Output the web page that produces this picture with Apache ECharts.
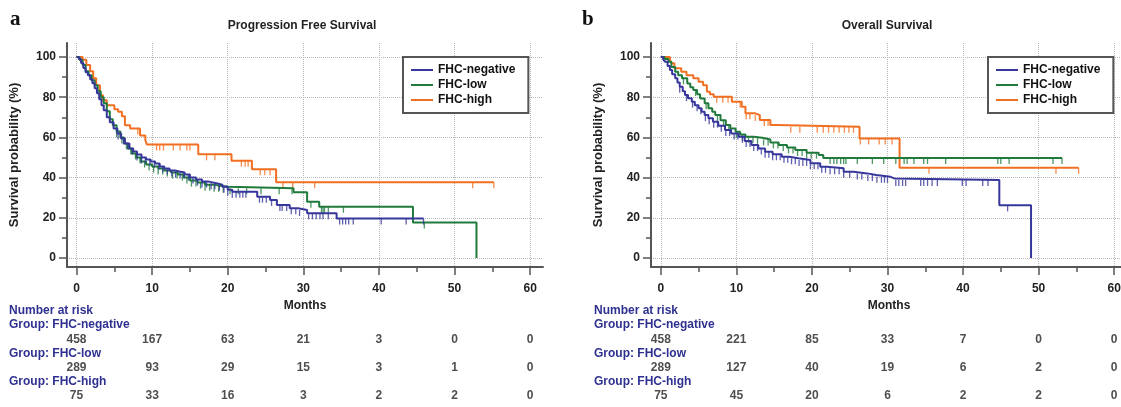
<!DOCTYPE html>
<html>
<head>
<meta charset="utf-8">
<script src="https://cdn.jsdelivr.net/npm/echarts@6/dist/echarts.min.js"></script>
<style>
  html, body { margin: 0; padding: 0; background: #fff; }
  #main { width: 1121px; height: 407px; }
</style>
</head>
<body>
<div id="main"></div>
<script>
const FONT = '"Liberation Sans", Arial, Helvetica, sans-serif';
const groups = ["FHC-negative", "FHC-low", "FHC-high"];
const colors = ["#36369b", "#1f7a3c", "#f26f22"];
const navy = "#2e3190";

const monthTicks = [0, 10, 20, 30, 40, 50, 60];
const monthMinor = [5, 15, 25, 35, 45, 55];
const survTicks = [0, 20, 40, 60, 80, 100];
const survMinor = [10, 30, 50, 70, 90];

// Progression free survival, steps [month, survival %]
const pfsNeg = [[0,100],[0.3,99],[0.6,97],[0.9,94.5],[1.2,92.5],[1.5,91],[1.8,89],[2.1,87],[2.4,84.5],[2.7,82],[3.0,79],[3.3,76],[3.6,73.5],[4.0,70],[4.4,67.5],[4.9,64.5],[5.4,62],[5.9,59.5],[6.4,57],[7.0,54.5],[7.5,53],[8.0,51.5],[8.6,50],[9.2,49],[9.8,48],[10.4,47],[11.0,45.5],[11.6,44.5],[12.3,43.5],[13.0,43],[13.6,42.5],[14.3,41.5],[15.0,40],[15.8,39],[16.6,38],[17.5,37.2],[18.5,36.5],[19.3,35.5],[20.0,34],[20.6,33],[23.9,30.5],[25.6,28.9],[26.5,26.4],[28.2,24.7],[29.3,23.9],[30.5,22.2],[34.4,19.6],[45.9,19.6]];
const pfsLow = [[0,100],[0.4,98.5],[0.8,96],[1.2,93],[1.6,91],[2.0,88.5],[2.4,86],[2.8,83],[3.2,80],[3.6,77],[4.0,73],[4.4,69],[4.8,66],[5.3,63],[5.8,60],[6.3,57],[6.8,54.5],[7.3,52],[7.9,50],[8.5,48],[9.2,46.5],[10.0,45.5],[10.8,44.5],[11.6,43.5],[12.5,42.5],[13.4,41.5],[14.2,40],[15.0,38.5],[16.0,37.5],[17.0,36.5],[18.0,36],[19.0,35.5],[20.1,34.7],[28.7,32.7],[30.5,28],[32.1,25.5],[44.5,17.6],[52.9,0]];
const pfsHigh = [[0,100],[0.8,98.7],[1.3,96],[1.8,93],[2.2,89.4],[2.6,86],[3.1,81],[3.5,78.5],[4.0,76],[5.0,74],[5.5,72.8],[6.0,70.5],[6.4,66],[7.1,64.5],[8.4,61],[9.1,58.7],[9.3,56.5],[16.1,51.6],[20.5,48.4],[23.2,44.1],[26.4,37.7],[55.2,37.7]];

// censored times (months)
const pfsNegCens = [5.5,6.2,6.8,7.4,8.0,8.6,9.1,9.7,10.3,10.9,11.4,12.0,12.6,13.1,13.7,14.2,14.8,15.4,16.0,16.6,17.2,17.8,18.3,18.9,19.5,20.0,20.6,21.1,21.6,22.0,22.4,24.2,24.6,25.1,25.8,26.9,27.2,27.8,28.4,29.0,29.5,30.7,31.2,31.7,32.2,32.6,33.3,34.8,35.2,35.6,36.0,36.6,40.3,43.6,45.9];
const pfsLowCens = [5.3,6.0,6.6,7.2,7.8,8.4,9.0,9.6,10.2,10.8,11.4,12.0,12.7,13.3,14.0,14.6,15.2,15.8,16.4,17.0,17.6,18.2,18.8,19.4,20.3,21.4,22.5,24.4,26.8,28.5,31.0,32.4,32.6,32.8,33.3,35.3,46.0];
const pfsHighCens = [8.1,10.6,11.0,11.5,12.8,13.7,14.6,15.0,17.2,18.3,21.8,22.3,22.7,24.3,24.9,25.6,27.3,28.6,31.5,52.4,55.2];

// Overall survival
const osNeg = [[0,100],[0.3,99],[0.55,97.7],[0.9,95.5],[1.2,93.5],[1.5,91.5],[1.9,89.4],[2.2,87.3],[2.5,85.2],[2.9,83],[3.2,81.1],[3.6,79.5],[4.1,77.8],[4.5,76],[5.0,74.5],[5.4,72.8],[5.8,71.1],[6.3,69.5],[6.9,67.8],[7.6,65.8],[8.5,63.7],[9.3,62],[10.3,60.3],[11.1,58.2],[12.0,56.2],[12.9,54.5],[13.8,52.9],[14.8,51.6],[16.0,50.4],[17.0,49.6],[18.2,48.8],[19.8,47.1],[21.1,45.4],[22.0,44.6],[24.2,42.9],[25.5,42.1],[27.3,41.3],[28.5,40.4],[30.4,39.6],[30.9,38.8],[44.8,26.2],[49.0,0]];
const osLow = [[0,100],[0.5,99],[1.0,97.7],[1.4,95],[1.9,92.7],[2.3,91],[2.8,89.4],[3.5,86.9],[3.9,85],[4.3,83.6],[4.8,81.5],[5.2,79.4],[5.8,77],[6.3,74.5],[6.8,72.8],[7.2,71.1],[7.9,68.5],[8.6,66.2],[9.2,64.5],[9.9,62.8],[10.5,61.5],[11.2,60.3],[12.3,59.8],[13.4,59],[14.5,57.5],[15.6,56.2],[16.7,55],[17.8,53.7],[19.3,52.4],[20.9,51.2],[21.5,49.8],[53.1,49.8]];
const osHigh = [[0,100],[1.2,98.7],[1.4,96.9],[1.8,94.4],[2.7,92.7],[3.4,91],[4.3,89.4],[5.0,87.7],[5.6,86],[6.1,82.7],[6.5,81.5],[7.0,80.2],[9.4,77.8],[10.7,75.3],[11.2,72],[12.5,71.1],[13.1,68.7],[14.5,66.2],[15.3,65.3],[26.3,59.5],[31.6,44.9],[55.3,44.9]];

const osNegCens = [2.5,3.4,4.2,4.8,5.3,5.9,6.4,7.0,7.5,8.0,8.6,9.1,9.7,10.2,10.8,11.3,11.8,12.3,12.8,13.3,13.8,14.3,14.8,15.3,15.8,16.3,16.8,17.3,17.8,18.3,18.8,19.3,19.8,20.3,20.8,21.3,21.8,22.4,23.0,23.6,24.2,25.0,26.0,26.6,27.4,28.0,28.6,29.2,29.6,30.0,31.1,31.5,32.0,32.4,34.4,34.8,35.3,35.9,36.6,39.9,40.4,42.6,43.3,45.9];
const osLowCens = [3.0,4.6,6.0,7.5,8.3,9.0,10.0,10.8,11.6,12.2,12.8,13.6,14.2,14.9,15.5,16.2,16.9,17.5,18.1,18.7,19.3,19.9,20.6,22.4,22.9,23.3,23.8,24.2,24.5,26.0,28.0,29.5,31.1,32.2,32.6,33.5,34.8,35.3,37.7,44.6,45.0,46.1,51.9,53.1];
const osHighCens = [7.4,8.2,8.9,10.5,11.3,11.8,12.5,13.7,14.2,17.2,18.4,20.7,21.5,22.2,22.9,23.6,24.3,24.9,25.5,26.4,27.5,28.9,29.7,30.6,35.5,52.3,55.3];

// number at risk at 0,10,...,60 months
const pfsRiskNeg = [458, 167, 63, 21, 3, 0, 0];
const pfsRiskLow = [289, 93, 29, 15, 3, 1, 0];
const pfsRiskHigh = [75, 33, 16, 3, 2, 2, 0];
const osRiskNeg = [458, 221, 85, 33, 7, 0, 0];
const osRiskLow = [289, 127, 40, 19, 6, 2, 0];
const osRiskHigh = [75, 45, 20, 6, 2, 2, 0];

function survAt(curve, t) {
  let s = curve[0][1];
  for (const p of curve) {
    if (p[0] <= t) s = p[1];
    else break;
  }
  return s;
}

const grids = [];
const xAxes = [];
const yAxes = [];
const series = [];
const graphics = [];

const axisColor = "#555";
const labelStyle = { color: "#222", fontWeight: "bold", fontSize: 12, fontFamily: FONT };

function panel(p, cfg) {
  const g = p * 2;
  const a = p * 3;
  grids.push(
    { left: cfg.left, top: 43, width: 476, height: 224, outerBoundsMode: "none", containLabel: false },
    { left: cfg.left, top: 326, width: 476, height: 84, outerBoundsMode: "none", containLabel: false }
  );
  xAxes.push(
    {
      type: "value", gridIndex: g, position: "bottom", min: cfg.xmin, max: cfg.xmax,
      axisLine: { onZero: false, lineStyle: { color: axisColor, width: 2 } },
      axisTick: { customValues: monthTicks, length: 8, lineStyle: { color: axisColor, width: 1.5 } },
      axisLabel: Object.assign({ customValues: monthTicks, margin: 16 }, labelStyle),
      splitLine: { show: true, lineStyle: { color: "#b8b8b8", type: "dotted", width: 1 } },
      name: "Months", nameLocation: "middle", nameGap: 33, nameTextStyle: labelStyle,
    },
    {
      type: "value", gridIndex: g, position: "bottom", min: cfg.xmin, max: cfg.xmax,
      axisLine: { show: false, onZero: false },
      axisTick: { show: true, customValues: monthMinor, length: 5, lineStyle: { color: axisColor, width: 1.5 } },
      axisLabel: { show: false },
      splitLine: { show: false },
    },
    { type: "value", gridIndex: g + 1, min: cfg.xmin, max: cfg.xmax, show: false }
  );
  yAxes.push(
    {
      type: "value", gridIndex: g, position: "left", min: -4.5, max: 107,
      axisLine: { show: true, onZero: false, lineStyle: { color: axisColor, width: 2 } },
      axisTick: { show: true, customValues: survTicks, length: 8, lineStyle: { color: axisColor, width: 1.5 } },
      axisLabel: Object.assign({ customValues: survTicks, margin: 11 }, labelStyle),
      splitLine: { show: true, lineStyle: { color: "#b8b8b8", type: "dotted", width: 1 } },
      name: "Survival probability (%)", nameLocation: "middle", nameGap: 46,
      nameTextStyle: Object.assign({}, labelStyle, { fontSize: 13 }),
    },
    {
      type: "value", gridIndex: g, position: "left", min: -4.5, max: 107,
      axisLine: { show: false, onZero: false },
      axisTick: { show: true, customValues: survMinor, length: 5, lineStyle: { color: axisColor, width: 1.5 } },
      axisLabel: { show: false },
      splitLine: { show: false },
    },
    { type: "value", gridIndex: g + 1, min: 0, max: 3, inverse: true, show: false }
  );

  cfg.curves.forEach((curve, i) => {
    series.push({
      name: groups[i], type: "line", step: "end", xAxisIndex: a, yAxisIndex: a,
      data: curve, showSymbol: false, symbol: "none",
      lineStyle: { color: colors[i], width: 2 }, itemStyle: { color: colors[i] },
      z: 3 + (2 - i),
    });
    series.push({
      name: groups[i] + " censored", type: "scatter", xAxisIndex: a, yAxisIndex: a,
      data: cfg.cens[i].map((t) => [t, survAt(curve, t)]),
      symbol: "rect", symbolSize: [1.3, 6], symbolOffset: [0, 3],
      itemStyle: { color: colors[i] }, silent: true, z: 3 + (2 - i),
    });
    series.push({
      name: groups[i] + " at risk", type: "scatter", xAxisIndex: a + 2, yAxisIndex: a + 2,
      data: monthTicks.map((m, k) => [m, i + 0.5, cfg.risk[i][k]]),
      symbolSize: 1, itemStyle: { color: "transparent" }, silent: true,
      label: {
        show: true, position: "inside", formatter: (d) => String(d.value[2]),
        color: "#222", fontWeight: "bold", fontSize: 12, fontFamily: FONT,
      },
    });
  });

  const txt = (text, x, y, font, fill, align) => ({
    type: "text", x: x, y: y, silent: true,
    style: { text: text, font: font, fill: fill, align: align || "left", textAlign: align || "left", verticalAlign: "middle", textVerticalAlign: "middle" },
  });
  const bold = 'bold 12px ' + FONT;
  graphics.push(
    txt(cfg.letter, cfg.letterX, 20, 'bold 21px "Liberation Serif", "DejaVu Serif", serif', "#111"),
    txt(cfg.title, cfg.titleX, 26, bold, "#222", "center"),
    txt("Number at risk", cfg.tableX, 311, bold, navy),
    txt("Group: FHC-negative", cfg.tableX, 325, bold, navy),
    txt("Group: FHC-low", cfg.tableX, 353.5, bold, navy),
    txt("Group: FHC-high", cfg.tableX, 382, bold, navy)
  );
}

panel(0, {
  left: 67, xmin: -1.26, xmax: 61.7, letter: "a", letterX: 10, title: "Progression Free Survival", titleX: 302, tableX: 9,
  curves: [pfsNeg, pfsLow, pfsHigh], cens: [pfsNegCens, pfsLowCens, pfsHighCens], risk: [pfsRiskNeg, pfsRiskLow, pfsRiskHigh],
});
panel(1, {
  left: 651, xmin: -1.3, xmax: 61.7, letter: "b", letterX: 582, title: "Overall Survival", titleX: 887, tableX: 594,
  curves: [osNeg, osLow, osHigh], cens: [osNegCens, osLowCens, osHighCens], risk: [osRiskNeg, osRiskLow, osRiskHigh],
});

const legendBase = {
  orient: "vertical", top: 57, itemWidth: 22, itemHeight: 2, itemGap: 3,
  padding: [7, 13, 7, 8], borderColor: "#555", borderWidth: 2, backgroundColor: "#fff",
  data: groups.map((n) => ({ name: n, icon: "rect" })),
  textStyle: { color: "#111", fontWeight: "bold", fontSize: 12, fontFamily: FONT },
  selectedMode: false,
};

const myChart = echarts.init(document.getElementById("main"), null, { renderer: "canvas" });
const option = {
  animation: false,
  backgroundColor: "#fff",
  grid: grids,
  xAxis: xAxes,
  yAxis: yAxes,
  legend: [
    Object.assign({ left: 403 }, legendBase),
    Object.assign({ left: 988 }, legendBase),
  ],
  graphic: graphics,
  series: series,
};
myChart.setOption(option);
</script>
</body>
</html>
